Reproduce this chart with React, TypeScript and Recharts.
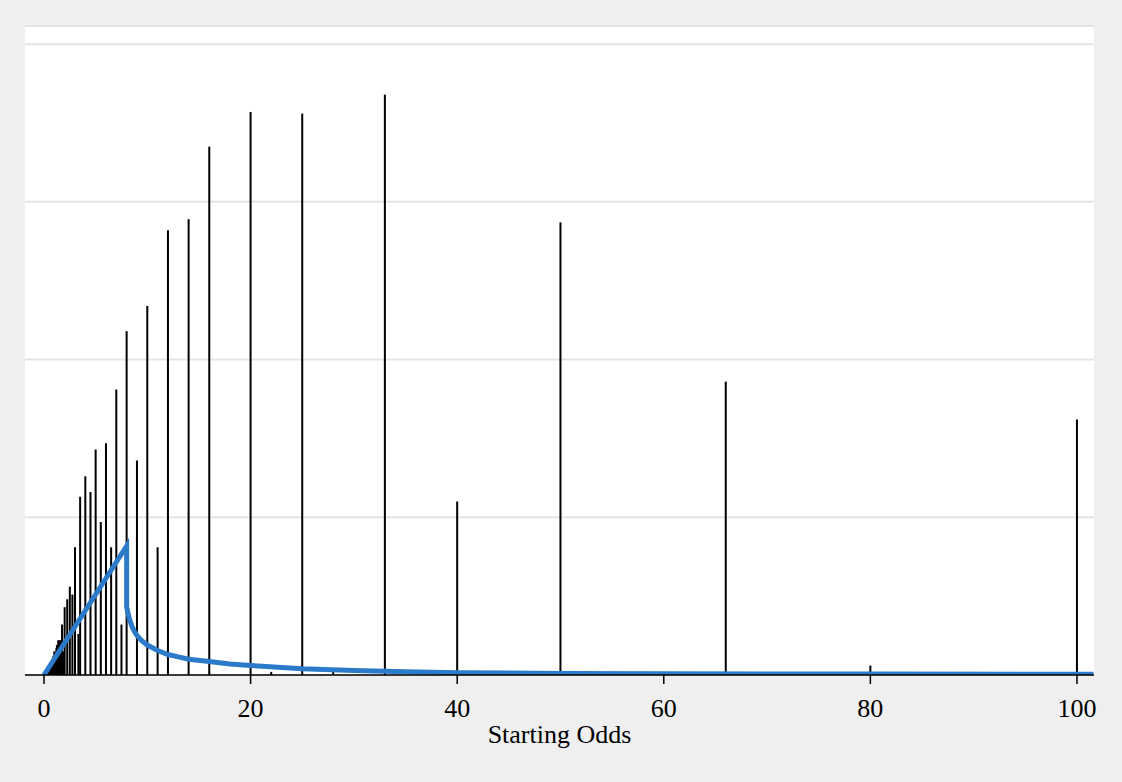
import React from 'react';
import { ComposedChart, Bar, Line, XAxis, YAxis, CartesianGrid } from 'recharts';

// spike positions (starting odds) and their heights
const odds = [
  0.2, 0.25, 0.33, 0.4, 0.5, 0.57, 0.62, 0.67, 0.73, 0.8, 0.83, 0.91, 1, 1.1, 1.2, 1.25, 1.38, 1.5,
  1.63, 1.75, 1.88, 2, 2.25, 2.5, 2.75, 3, 3.33, 3.5, 4, 4.5, 5, 5.5, 6, 6.5, 7, 7.5, 8, 9, 10, 11,
  12, 14, 16, 20, 22, 25, 28, 33, 40, 50, 66, 80, 100,
];
const counts = [
  0.02, 0.03, 0.04, 0.05, 0.07, 0.05, 0.07, 0.08, 0.08, 0.1, 0.09, 0.12, 0.15, 0.14, 0.17, 0.19, 0.22, 0.22,
  0.22, 0.32, 0.15, 0.43, 0.48, 0.56, 0.51, 0.81, 0.26, 1.13, 1.26, 1.16, 1.43, 0.97, 1.47, 0.81, 1.81, 0.32, 2.18, 1.36, 2.34, 0.81,
  2.82, 2.89, 3.35, 3.57, 0.02, 3.56, 0.02, 3.68, 1.1, 2.87, 1.86, 0.06, 1.62,
];

// blue curve
const curveX = [0, 8, 8, 8.25, 8.5, 8.75, 9, 9.5, 10, 11, 12, 13, 14, 16, 18, 20, 25, 30, 35, 40, 50, 60, 80, 101.6];
const curveY = [
  0, 0.818, 0.43, 0.36, 0.31, 0.275, 0.25, 0.215, 0.19, 0.155, 0.13, 0.115, 0.1, 0.085, 0.07, 0.06, 0.04, 0.028,
  0.02, 0.015, 0.01, 0.008, 0.006, 0.005,
];

const xTicks = [0, 20, 40, 60, 80, 100];
const gridTicks = [0, 1, 2, 3, 4];

const rows: { x: number; count?: number; dens?: number }[] = [
  ...curveX.map((x, i) => ({ x, dens: curveY[i] })),
  ...odds.map((x, i) => ({ x, count: counts[i] })),
].sort((a, b) => a.x - b.x);

const serif = '"Liberation Serif", "Times New Roman", serif';

// thin spike centred on the bar slot
const Spike = (props: any) => {
  const { x, y, width, height } = props;
  if (!height || height <= 0) return null;
  return <rect x={x + width / 2 - 1} y={y} width={2} height={height} fill="#000" />;
};

export default function App() {
  return (
    <div style={{ position: 'absolute', left: 0, top: 0, width: 1122, height: 782, background: '#efefef' }}>
      <ComposedChart width={1122} height={782} data={rows} margin={{ top: 26, right: 28, left: 25, bottom: 0 }}>
        <CartesianGrid vertical={false} fill="#ffffff" stroke="#e4e4e4" strokeWidth={2} />
        <XAxis
          dataKey="x"
          type="number"
          domain={[-1.84, 101.65]}
          allowDataOverflow
          ticks={xTicks}
          tickSize={9}
          tickMargin={15}
          height={107}
          axisLine={{ stroke: '#000', strokeWidth: 1.5 }}
          tickLine={{ stroke: '#000', strokeWidth: 1.5 }}
          tick={{ fill: '#000', fontSize: 26, fontFamily: serif }}
          label={{ value: 'Starting Odds', position: 'insideBottom', offset: 39, fill: '#000', fontSize: 26, fontFamily: serif }}
        />
        <YAxis hide domain={[0, 4.115]} ticks={gridTicks} allowDataOverflow />
        <Bar dataKey="count" fill="#000" barSize={2} shape={Spike} isAnimationActive={false} />
        <Line
          dataKey="dens"
          type="linear"
          stroke="#2b7bca"
          strokeWidth={5}
          dot={false}
          connectNulls
          isAnimationActive={false}
        />
      </ComposedChart>
    </div>
  );
}
